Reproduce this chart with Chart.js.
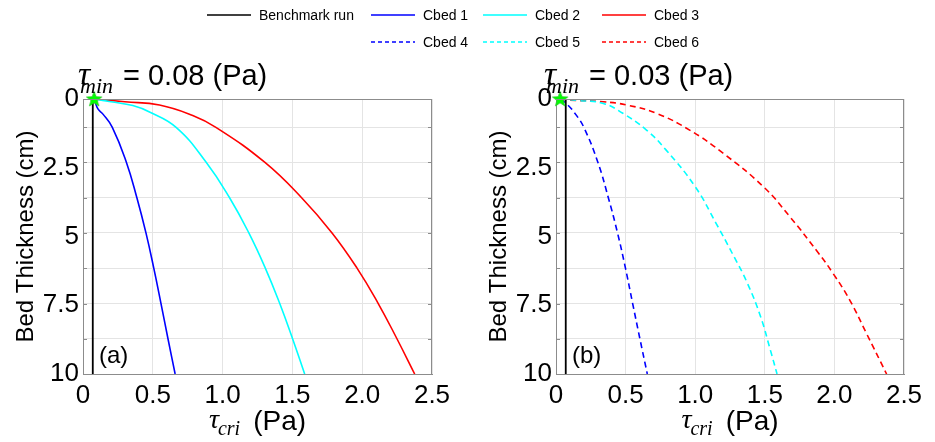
<!DOCTYPE html>
<html>
<head>
<meta charset="utf-8">
<script src="https://cdn.jsdelivr.net/npm/chart.js@4.4.1/dist/chart.umd.min.js"></script>
<style>
    body { margin: 0; width: 935px; height: 442px; overflow: hidden; background: #fff; position: relative;
           font-family: 'Liberation Sans', Arial, sans-serif; }
    .panel { position: absolute; top: 0; height: 442px; }
    #legend { position: absolute; left: 0; top: 0; width: 935px; height: 56px; z-index: 2; }
    .item { position: absolute; font-size: 14px; line-height: 16px; color: #000; white-space: nowrap; }
    .item canvas { vertical-align: middle; margin-right: 8px; position: relative; top: -1px; }
</style>
</head>
<body>
<div id="legend"></div>
<div class="panel" style="left:0;width:467px"><canvas id="chart-a"></canvas></div>
<div class="panel" style="left:473px;width:462px"><canvas id="chart-b"></canvas></div>
<script>
// Series names and tau_min values
const seriesNames = ['Benchmark run', 'Cbed 1', 'Cbed 2', 'Cbed 3', 'Cbed 4', 'Cbed 5', 'Cbed 6'];
const tauMinA = 0.08;
const tauMinB = 0.03;

// Benchmark run (vertical line)
const benchTau = [0.07, 0.07];
const benchDepth = [0, 10];

// Panel (a), tau_min = 0.08
const cbed1Depth = [0, 0.36, 0.55, 1.03, 2.29, 3.59, 4.87, 6.15, 7.42, 8.70, 10];
const cbed1Tau   = [0.08, 0.107, 0.143, 0.21, 0.31, 0.386, 0.451, 0.507, 0.558, 0.608, 0.66];
const cbed2Depth = [0, 0.1, 0.24, 0.48, 1.03, 2.29, 3.59, 4.87, 6.15, 7.42, 8.70, 10];
const cbed2Tau   = [0.08, 0.2, 0.357, 0.48, 0.667, 0.881, 1.05, 1.188, 1.306, 1.408, 1.5, 1.588];
const cbed3Depth = [0, 0.1, 0.22, 0.6, 1.03, 2.29, 3.59, 4.87, 6.15, 7.42, 8.70, 10];
const cbed3Tau   = [0.08, 0.3, 0.548, 0.786, 0.952, 1.299, 1.566, 1.784, 1.963, 2.113, 2.247, 2.376];

// Panel (b), tau_min = 0.03
const cbed4Depth = [0, 0.22, 0.55, 1.03, 2.29, 3.59, 4.87, 6.15, 7.42, 8.70, 10];
const cbed4Tau   = [0.03, 0.085, 0.14, 0.2, 0.3, 0.376, 0.442, 0.499, 0.55, 0.602, 0.656];
const cbed5Depth = [0, 0.05, 0.16, 0.52, 1.13, 1.85, 3.19, 4.52, 5.6, 6.7, 7.92, 9.13, 10];
const cbed5Tau   = [0.03, 0.15, 0.34, 0.48, 0.65, 0.79, 1.0, 1.15, 1.265, 1.375, 1.47, 1.54, 1.588];
const cbed6Depth = [0, 0.04, 0.1, 0.22, 0.52, 1.13, 1.97, 3.19, 4.28, 5.6, 6.34, 7.31, 8.52, 10];
const cbed6Tau   = [0.03, 0.1, 0.34, 0.51, 0.72, 0.96, 1.2, 1.49, 1.68, 1.885, 1.99, 2.11, 2.23, 2.375];

// Tick labels and grid positions
const xTickLabels = ['0', '0.5', '1.0', '1.5', '2.0', '2.5'];
const yTickValues = [0, 2.5, 5, 7.5, 10];
const yTickLabels = ['0', '2.5', '5', '7.5', '10'];
const yGridDepths = [1.02, 2.3, 3.59, 4.87, 6.15, 7.44, 8.72];

const BLUE = '#0000ff', CYAN = '#00ffff', RED = '#ff0000', BLACK = '#000000';
const GRID = '#e4e4e4', BOX = '#8c8c8c';
const SANS = '"Liberation Sans", Arial, sans-serif';
const SERIF = '"Liberation Serif", "Times New Roman", serif';

function toPoints(xs, ys) {
    return xs.map((x, i) => ({ x: x, y: ys[i] }));
}

// Green filled pentagram used as the tau_min marker
const starImg = document.createElement('canvas');
starImg.width = 18; starImg.height = 18;
(function() {
    const c = starImg.getContext('2d');
    c.beginPath();
    for (let i = 0; i < 10; i++) {
        const r = i % 2 === 0 ? 8 : 3.3;
        const a = -Math.PI / 2 + i * Math.PI / 5;
        const px = 9 + r * Math.cos(a), py = 9.5 + r * Math.sin(a);
        if (i === 0) c.moveTo(px, py); else c.lineTo(px, py);
    }
    c.closePath();
    c.fillStyle = '#00ff00';
    c.fill();
    c.strokeStyle = '#22cc22';
    c.lineWidth = 0.8;
    c.stroke();
})();

// Draws box, titles with subscripts and panel tag
const panelText = {
    id: 'panelText',
    afterDraw(chart, args, opts) {
        const ctx = chart.ctx;
        const a = chart.chartArea;
        ctx.save();

        // top and right sides of the box
        ctx.strokeStyle = BOX;
        ctx.lineWidth = 1;
        ctx.beginPath();
        ctx.moveTo(a.left, Math.round(a.top) + 0.5);
        ctx.lineTo(a.right, Math.round(a.top) + 0.5);
        ctx.moveTo(Math.round(a.right) - 0.5, a.top);
        ctx.lineTo(Math.round(a.right) - 0.5, a.bottom);
        // inner tick marks on left and right
        const ys = chart.scales.y;
        yGridDepths.forEach(v => {
            const py = Math.round(ys.getPixelForValue(v)) + 0.5;
            ctx.moveTo(a.left, py); ctx.lineTo(a.left + 4, py);
            ctx.moveTo(a.right, py); ctx.lineTo(a.right - 4, py);
        });
        ctx.stroke();

        ctx.fillStyle = '#000';
        ctx.textAlign = 'left';
        ctx.textBaseline = 'alphabetic';

        // panel title: tau_min = x (Pa)
        const x0 = a.left + opts.titleShift;
        ctx.font = 'italic 34px ' + SERIF;
        ctx.fillText('\u03c4', x0, a.top - 14);
        ctx.font = 'italic 22px ' + SERIF;
        ctx.fillText('min', x0 + 2, a.top - 6);
        ctx.font = '29px ' + SANS;
        ctx.fillText('= ' + opts.tauMin.toFixed(2) + ' (Pa)', x0 + 45, a.top - 14);

        // x axis title: tau_cri (Pa)
        ctx.font = 'italic 28px ' + SERIF;
        const wT = ctx.measureText('\u03c4').width;
        ctx.font = 'italic 20px ' + SERIF;
        const wS = ctx.measureText('cri').width;
        ctx.font = '28px ' + SANS;
        const wP = ctx.measureText('(Pa)').width;
        let x = (a.left + a.right) / 2 - (wT + wS + 12 + wP) / 2;
        ctx.font = 'italic 28px ' + SERIF;
        ctx.fillText('\u03c4', x, a.bottom + 54);
        ctx.font = 'italic 20px ' + SERIF;
        ctx.fillText('cri', x + wT - 1, a.bottom + 61);
        ctx.font = '28px ' + SANS;
        ctx.fillText('(Pa)', x + wT + wS + 12, a.bottom + 56);

        // panel tag
        ctx.font = '24px ' + SANS;
        ctx.textBaseline = 'middle';
        ctx.fillText(opts.tag, a.left + 16, a.bottom - 18);
        ctx.restore();
    }
};

function makeChart(id, tauMin, series, tag, titleShift, padRight) {
    const datasets = [{
        label: 'tau_min',
        data: [{ x: tauMin, y: 0 }],
        showLine: false,
        pointStyle: starImg,
        pointRadius: 8,
        clip: false
    }, {
        label: seriesNames[0],
        data: toPoints(benchTau, benchDepth),
        showLine: true,
        borderColor: BLACK,
        borderWidth: 1.8,
        pointRadius: 0
    }];
    series.forEach(s => {
        datasets.push({
            label: s.name,
            data: toPoints(s.tau, s.depth),
            showLine: true,
            borderColor: s.color,
            borderWidth: 1.6,
            borderDash: s.dash,
            pointRadius: 0,
            tension: 0.45
        });
    });

    return new Chart(document.getElementById(id), {
        type: 'scatter',
        data: { datasets: datasets },
        options: {
            responsive: true,
            maintainAspectRatio: false,
            animation: false,
            layout: { padding: { top: 99, right: padRight, bottom: 0, left: 0 } },
            plugins: {
                legend: { display: false },
                tooltip: { enabled: false },
                panelText: { tauMin: tauMin, tag: tag, titleShift: titleShift }
            },
            scales: {
                x: {
                    type: 'linear',
                    min: 0,
                    max: 2.5,
                    ticks: {
                        stepSize: 0.5,
                        color: '#000',
                        font: { family: SANS, size: 26 },
                        padding: 6,
                        maxRotation: 0,
                        callback: (v, i) => xTickLabels[i]
                    },
                    grid: { color: GRID, drawTicks: false },
                    border: { color: BOX },
                    afterFit: s => { s.height = 68; }
                },
                y: {
                    type: 'linear',
                    reverse: true,
                    min: 0,
                    max: 10,
                    afterBuildTicks: s => {
                        s.ticks = yTickValues.concat(yGridDepths)
                            .sort((p, q) => p - q)
                            .map(v => ({ value: v }));
                    },
                    ticks: {
                        autoSkip: false,
                        color: '#000',
                        font: { family: SANS, size: 26 },
                        padding: 4,
                        callback: v => {
                            const i = yTickValues.indexOf(v);
                            return i >= 0 ? yTickLabels[i] : '';
                        }
                    },
                    grid: {
                        drawTicks: false,
                        color: c => (yGridDepths.indexOf(c.tick.value) >= 0 ? GRID : 'rgba(0,0,0,0)')
                    },
                    border: { color: BOX },
                    title: {
                        display: true,
                        text: 'Bed Thickness (cm)',
                        color: '#000',
                        font: { family: SANS, size: 24 },
                        padding: { top: 12, bottom: 0 }
                    },
                    afterFit: s => { s.width = 83; }
                }
            }
        },
        plugins: [panelText]
    });
}

makeChart('chart-a', tauMinA, [
    { name: seriesNames[1], tau: cbed1Tau, depth: cbed1Depth, color: BLUE, dash: [] },
    { name: seriesNames[2], tau: cbed2Tau, depth: cbed2Depth, color: CYAN, dash: [] },
    { name: seriesNames[3], tau: cbed3Tau, depth: cbed3Depth, color: RED, dash: [] }
], '(a)', -5, 35);

makeChart('chart-b', tauMinB, [
    { name: seriesNames[4], tau: cbed4Tau, depth: cbed4Depth, color: BLUE, dash: [6, 4] },
    { name: seriesNames[5], tau: cbed5Tau, depth: cbed5Depth, color: CYAN, dash: [6, 4] },
    { name: seriesNames[6], tau: cbed6Tau, depth: cbed6Depth, color: RED, dash: [6, 4] }
], '(b)', -12, 31);

// Shared legend across the top, 4 columns x 2 rows
const legendCols = [207, 371, 483, 602];
const legendRows = [15, 42];
const legendItems = [
    { name: seriesNames[0], color: BLACK, dash: [], col: 0, row: 0 },
    { name: seriesNames[1], color: BLUE, dash: [], col: 1, row: 0 },
    { name: seriesNames[2], color: CYAN, dash: [], col: 2, row: 0 },
    { name: seriesNames[3], color: RED, dash: [], col: 3, row: 0 },
    { name: seriesNames[4], color: BLUE, dash: [4, 3], col: 1, row: 1 },
    { name: seriesNames[5], color: CYAN, dash: [4, 3], col: 2, row: 1 },
    { name: seriesNames[6], color: RED, dash: [4, 3], col: 3, row: 1 }
];
const legend = document.getElementById('legend');
legendItems.forEach(it => {
    const div = document.createElement('div');
    div.className = 'item';
    div.style.left = legendCols[it.col] + 'px';
    div.style.top = (legendRows[it.row] - 8) + 'px';
    const sample = document.createElement('canvas');
    sample.width = 44; sample.height = 4;
    const c = sample.getContext('2d');
    c.strokeStyle = it.color;
    c.lineWidth = 1.5;
    c.setLineDash(it.dash);
    c.beginPath(); c.moveTo(0, 2); c.lineTo(44, 2); c.stroke();
    div.appendChild(sample);
    div.appendChild(document.createTextNode(it.name));
    legend.appendChild(div);
});
</script>
</body>
</html>
